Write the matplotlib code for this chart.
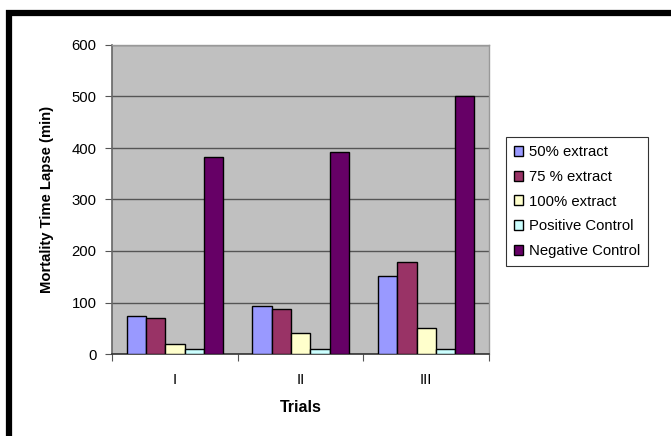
import matplotlib
matplotlib.use("Agg")
import matplotlib.pyplot as plt
from matplotlib.patches import Rectangle
import numpy as np

plt.rcParams['font.family'] = ['Liberation Sans', 'DejaVu Sans']

trials = ["I", "II", "III"]
series_names = ["50% extract", "75 % extract", "100% extract", "Positive Control", "Negative Control"]
ext50 = [73, 93, 152]
ext75 = [70, 87, 178]
ext100 = [20, 41, 51]
pos_ctrl = [10, 10, 10]
neg_ctrl = [382, 392, 500]
y_ticks = [0, 100, 200, 300, 400, 500, 600]

series = [ext50, ext75, ext100, pos_ctrl, neg_ctrl]
colors = ["#9999FF", "#993366", "#FFFFCC", "#CCFFFF", "#660066"]

W, H = 671, 436
fig = plt.figure(figsize=(W / 100, H / 100), dpi=100)
fig.patch.set_facecolor("white")

ax = fig.add_axes([112 / W, 1 - 354 / H, (489 - 112) / W, (354 - 45) / H])
ax.set_facecolor("#C0C0C0")

x = np.arange(len(trials))
w = 1 / 6.5
for i, (vals, c, name) in enumerate(zip(series, colors, series_names)):
    ax.bar(x + (i - 2) * w, vals, width=w, color=c, edgecolor="black",
           linewidth=1.0, label=name, zorder=3)

ax.set_xlim(-0.5, 2.5)
ax.set_ylim(0, 600)
ax.set_yticks(y_ticks)
ax.set_yticklabels([str(t) for t in y_ticks], fontsize=10.7)
ax.yaxis.grid(True, color="#555555", linewidth=1.0, zorder=1)
ax.set_axisbelow(True)

ax.set_xticks([-0.5, 0.5, 1.5, 2.5])
ax.set_xticklabels([])
ax.set_xticks(x, minor=True)
ax.set_xticklabels(trials, minor=True, fontsize=10.7)
ax.tick_params(axis="x", which="minor", length=0, pad=14)
ax.tick_params(axis="x", which="major", length=5, direction="out", color="#555555")
ax.tick_params(axis="y", length=5, direction="out", color="#555555", pad=6)

for side in ["top", "right"]:
    ax.spines[side].set_color("#999999")
    ax.spines[side].set_linewidth(1.0)
ax.spines["left"].set_color("#666666")
ax.spines["bottom"].set_color("#333333")
ax.spines["left"].set_linewidth(1.2)
ax.spines["bottom"].set_linewidth(1.2)

ax.set_ylabel("Mortality Time Lapse (min)", fontsize=10.7, fontweight="bold", labelpad=13)
ax.set_xlabel("Trials", fontsize=11.5, fontweight="bold", labelpad=9)

leg = fig.legend(loc="upper left", bbox_to_anchor=(505.5 / W, 1 - 137 / H),
                 fontsize=10.7, frameon=True, fancybox=False, borderaxespad=0,
                 handlelength=0.65, handleheight=0.65, handletextpad=0.35,
                 labelspacing=0.72, borderpad=0.55)
leg.get_frame().set_edgecolor("black")
leg.get_frame().set_linewidth(0.8)

# thick black outer frame (partly outside the image)
fig.patches.append(Rectangle((8.5 / W, -0.1), 1.2, 1 - 13.5 / H + 0.1,
                             transform=fig.transFigure, fill=False,
                             edgecolor="black", linewidth=4.5, zorder=10))

fig.savefig("out.png", dpi=100)
